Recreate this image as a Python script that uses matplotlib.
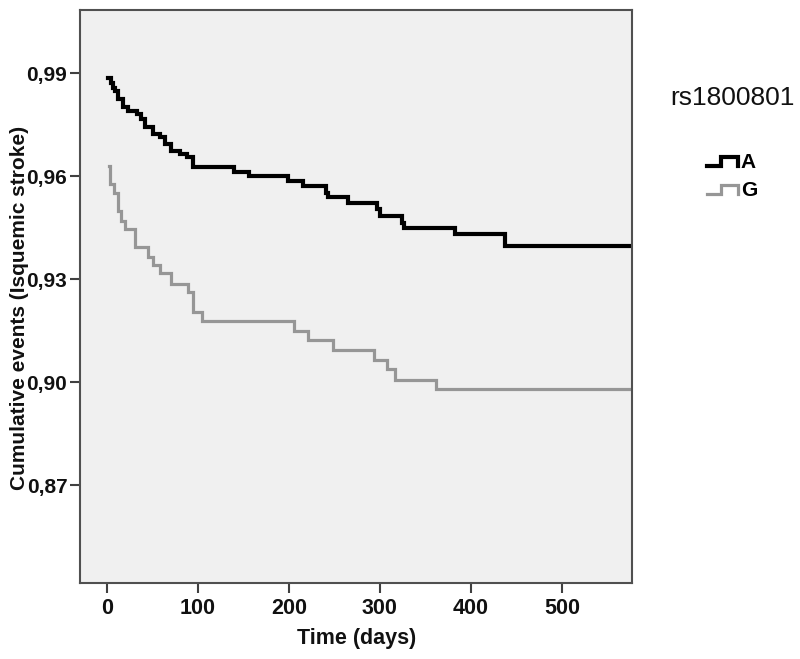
import matplotlib
matplotlib.use("Agg")
import matplotlib.pyplot as plt
from matplotlib.lines import Line2D
from matplotlib.legend_handler import HandlerBase
from matplotlib.ticker import FuncFormatter

plt.rcParams["font.family"] = ["Liberation Sans", "DejaVu Sans"]

# Kaplan-Meier style steps: time (days) -> cumulative value after the event
a_time = [1, 4, 7, 9, 12, 18, 23, 33, 38, 42, 51, 58, 64, 71, 80, 88, 95,
          140, 156, 199, 216, 241, 243, 265, 297, 300, 324, 326, 382, 438]
a_value = [0.9886, 0.9870, 0.9858, 0.9848, 0.9824, 0.9800, 0.9790, 0.9781,
           0.9766, 0.9742, 0.9723, 0.9713, 0.9694, 0.9674, 0.9665, 0.9655,
           0.9628, 0.9613, 0.9601, 0.9586, 0.9572, 0.9552, 0.9540, 0.9523,
           0.9504, 0.9483, 0.9465, 0.9448, 0.9431, 0.9396]

g_time = [2, 3, 8, 12, 16, 20, 31, 45, 51, 58, 71, 89, 95, 104,
          206, 221, 249, 293, 308, 317, 362]
g_value = [0.9630, 0.9577, 0.9550, 0.9500, 0.9470, 0.9446, 0.9393, 0.9366,
           0.9342, 0.9318, 0.9286, 0.9262, 0.9205, 0.9178, 0.9149, 0.9124,
           0.9095, 0.9066, 0.9039, 0.9008, 0.8979]

follow_up_end = 580
groups = ["A", "G"]
colors = ["#000000", "#969696"]
widths = [3.0, 2.3]
x_ticks = [0, 100, 200, 300, 400, 500]
y_ticks = [0.87, 0.90, 0.93, 0.96, 0.99]


class StepHandler(HandlerBase):
    def create_artists(self, legend, orig_handle, xdescent, ydescent,
                       width, height, fontsize, trans):
        x0 = -xdescent
        y0 = -ydescent
        xs = [x0, x0 + 0.45 * width, x0 + 0.45 * width, x0 + width, x0 + width]
        ys = [y0 + 0.1 * height, y0 + 0.1 * height, y0 + 0.75 * height,
              y0 + 0.75 * height, y0 + 0.1 * height]
        ln = Line2D(xs, ys, color=orig_handle.get_color(),
                    lw=orig_handle.get_linewidth(), solid_joinstyle="miter")
        ln.set_transform(trans)
        return [ln]


fig = plt.figure(figsize=(8, 6.59), dpi=100)
ax = fig.add_axes([0.1006, 0.116, 0.6894, 0.869])
ax.set_facecolor("#f0f0f0")

handles = []
for t, v, name, c, w in zip([a_time, g_time], [a_value, g_value], groups, colors, widths):
    ln, = ax.step(t + [follow_up_end], v + [v[-1]], where="post",
                  color=c, lw=w, label=name, solid_joinstyle="miter")
    handles.append(ln)

ax.set_xlim(-29, 577)
ax.set_ylim(0.8417, 1.0084)
ax.set_xticks(x_ticks)
ax.set_yticks(y_ticks)
ax.yaxis.set_major_formatter(FuncFormatter(lambda v, p: f"{v:.2f}".replace(".", ",")))

for s in ax.spines.values():
    s.set_color("#505050")
    s.set_linewidth(1.5)
ax.tick_params(direction="out", length=7.5, width=1.5, color="#404040",
               labelsize=15.5, labelcolor="#111111")
ax.tick_params(axis="y", pad=2, labelsize=15)
for lab in ax.get_xticklabels() + ax.get_yticklabels():
    lab.set_fontweight("bold")

ax.set_xlabel("Time (days)", fontsize=15.5, fontweight="bold", color="#111111")
ax.set_ylabel("Cumulative events (Isquemic stroke)", fontsize=15,
              fontweight="bold", color="#111111")
ax.xaxis.set_label_coords(0.5, -0.079)
ax.yaxis.set_label_coords(-0.093, 0.48)

fig.text(0.838, 0.851, "rs1800801", fontsize=19, color="#111111", va="center")
leg = fig.legend(handles=handles, labels=groups,
                 loc="upper left", bbox_to_anchor=(0.884, 0.768),
                 frameon=False, fontsize=15, borderpad=0, borderaxespad=0,
                 handler_map={Line2D: StepHandler()},
                 handlelength=1.5, handletextpad=0.12, labelspacing=0.42)
for txt in leg.get_texts():
    txt.set_fontweight("bold")

fig.savefig("out.png", dpi=100)
